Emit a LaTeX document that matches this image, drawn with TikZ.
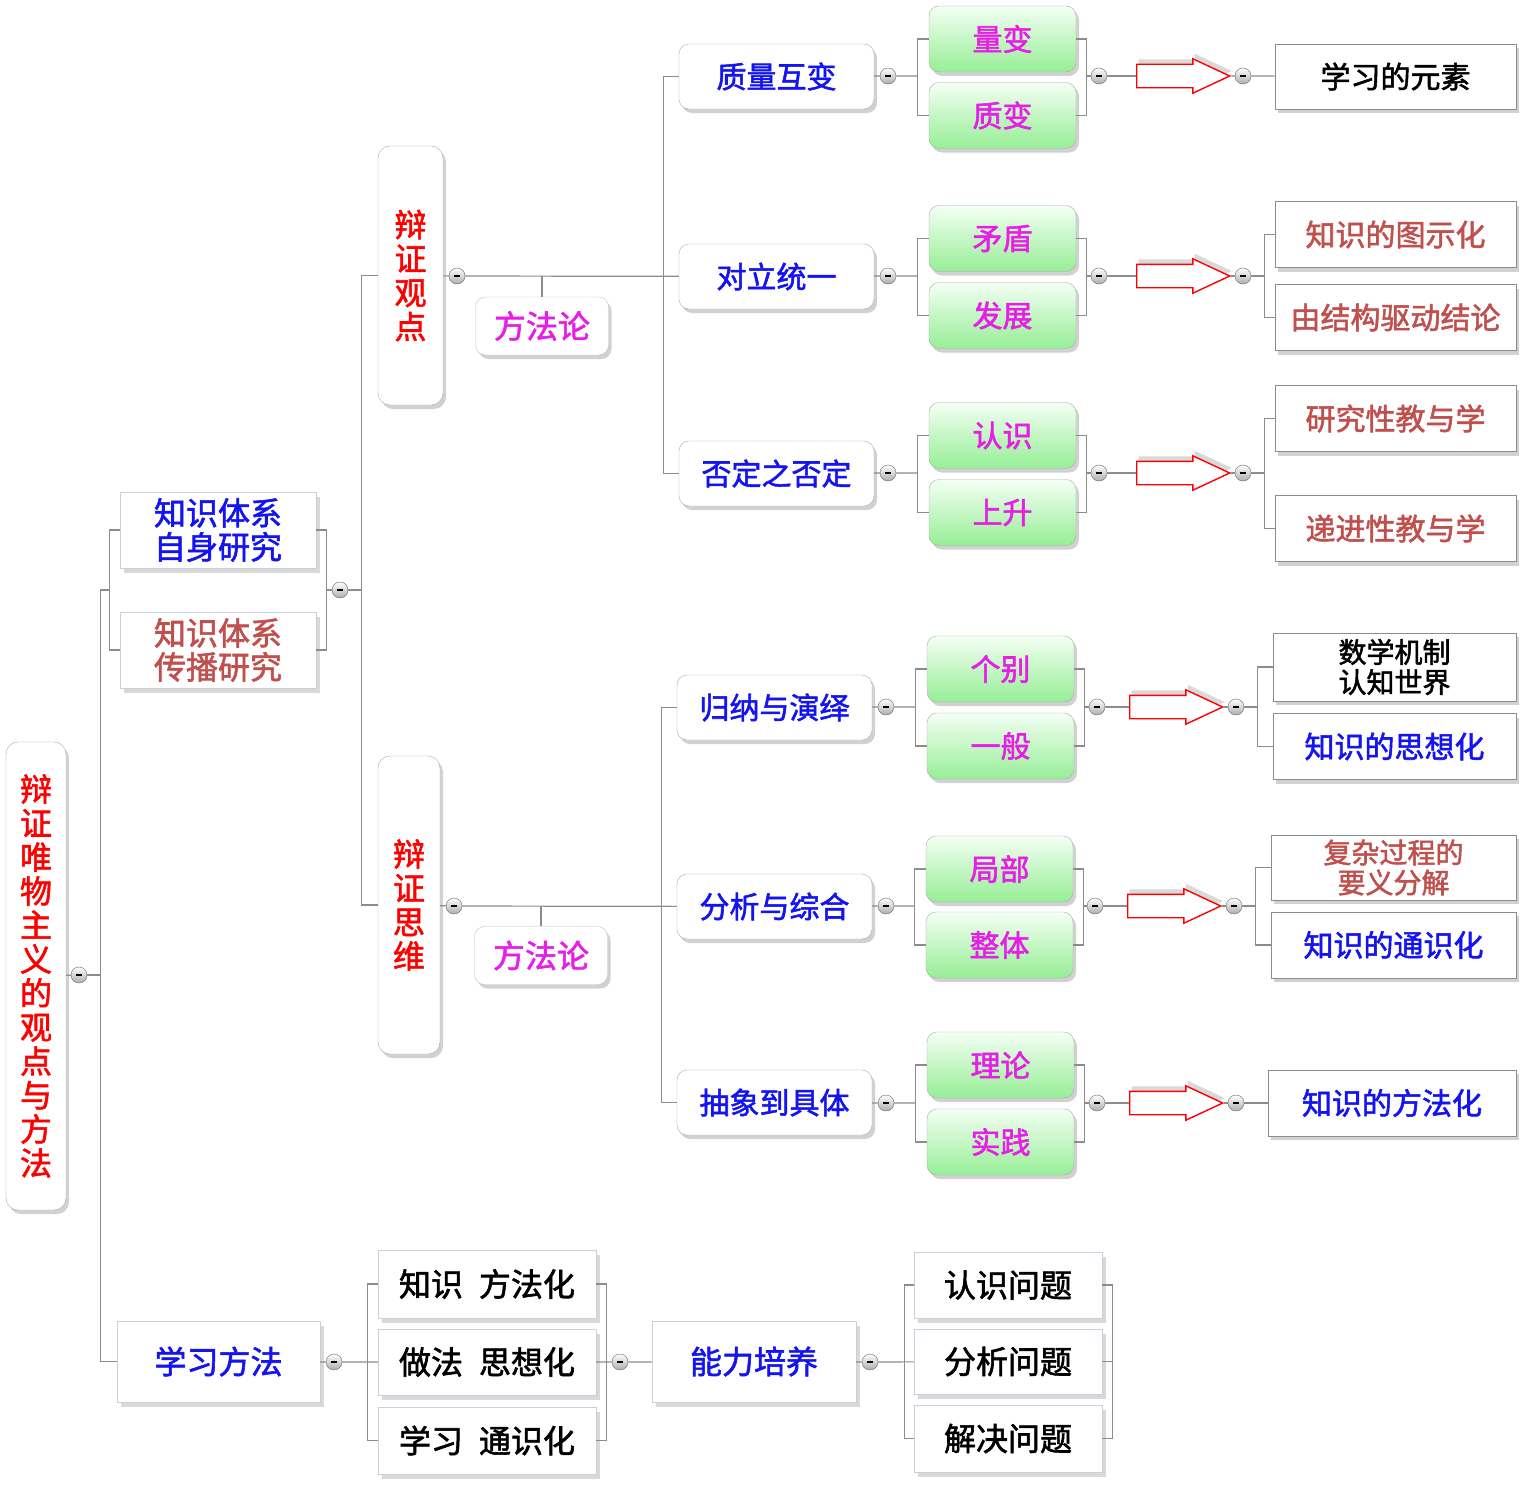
\documentclass[tikz,border=0pt]{standalone}
\usepackage{fontspec}
\setmainfont{Noto Sans CJK SC}[FakeBold=1.8]
\usepackage{tikz}
\usetikzlibrary{calc,positioning,shadows,shapes.arrows}

\definecolor{tred}{RGB}{255,0,0}
\definecolor{tblue}{RGB}{20,20,240}
\definecolor{tmag}{RGB}{230,30,230}
\definecolor{tbrown}{RGB}{192,80,77}
\definecolor{gtop}{RGB}{244,255,244}
\definecolor{gbot}{RGB}{150,238,150}
\definecolor{linegray}{RGB}{140,140,140}
\definecolor{framegray}{RGB}{170,170,170}
\definecolor{palegray}{RGB}{200,208,222}

\tikzset{
	shad/.style={drop shadow={shadow xshift=3pt,shadow yshift=-4pt,opacity=.3,fill=black!60}},
	link/.style={draw=linegray, line width=1.2pt},
	fold/.style={circle, draw=gray!80!black, top color=white, bottom color=gray!65, inner sep=0pt, minimum size=16pt, label={[inner sep=0pt]center:\rule{6pt}{2.4pt}}},
	vbox/.style={draw=framegray, fill=white, rounded corners=12pt, shad, inner sep=0pt, text width=34pt, align=center, text=tred, font=\fontsize{32}{34}\selectfont},
	meth/.style={draw=framegray!70, fill=white, rounded corners=10pt, shad, minimum width=133pt, minimum height=58pt, inner sep=0pt, text=tmag, font=\fontsize{32}{34}\selectfont},
	topic/.style={draw=framegray, fill=white, rounded corners=10pt, shad, minimum width=195pt, minimum height=65pt, inner sep=0pt, text=tblue, font=\fontsize{30}{32}\selectfont},
	leaf/.style={draw=framegray, top color=gtop, bottom color=gbot, rounded corners=10pt, shad, minimum width=147pt, minimum height=66pt, inner sep=0pt, text=tmag, font=\fontsize{30}{32}\selectfont},
	fat/.style={single arrow, anchor=tail, draw=red, fill=white, line width=1.4pt, minimum height=93pt, minimum width=33pt, single arrow head extend=5.5pt, single arrow tip angle=50, inner xsep=0pt, inner ysep=11pt, drop shadow={shadow xshift=2pt,shadow yshift=5pt,opacity=.15,fill=black}},
	rbox/.style={draw=linegray, fill=white, shad, minimum width=241pt, minimum height=66pt, inner sep=0pt, align=center, font=\fontsize{30}{30}\selectfont},
	pbox/.style={draw=palegray, fill=white, drop shadow={shadow xshift=4pt,shadow yshift=-5pt,opacity=.15,fill=black}, inner sep=0pt, align=center, font=\fontsize{32}{34}\selectfont},
}

\begin{document}
\begin{tikzpicture}[x=1pt,y=-1pt]
	\useasboundingbox (0,0) rectangle (1534,1488);
	% Root
	\node[vbox, minimum width=60pt, minimum height=468pt] (Root) at (36,976) {辩\\证\\唯\\物\\主\\义\\的\\观\\点\\与\\方\\法};
	\node[fold] (RootF) at (79,975) {};
	\coordinate (Trunk) at (101,975);
	
	% Knowledge system
	\node[pbox, minimum width=196pt, minimum height=76pt, text=tblue] (KSelf) at (218,530) {知识体系\\自身研究};
	\node[pbox, minimum width=196pt, minimum height=76pt, text=tbrown] (KSpread) at (218,650) {知识体系\\传播研究};
	\node[fold] (KF) at (340,590) {};
	
	% Viewpoint and thinking
	\node[vbox, minimum width=65pt, minimum height=259pt] (View) at (410.5,275.5) {辩\\证\\观\\点};
	\node[vbox, minimum width=62pt, minimum height=298pt] (Think) at (409,905) {辩\\证\\思\\维};
	\node[fold] (ViewF) at (457,276) {};
	\node[fold] (ThinkF) at (454,906) {};
	\node[meth] (ViewM) at (542,326) {方法论};
	\node[meth] (ThinkM) at (541,955.5) {方法论};
	
	% Topics
	\node[topic] (Mutual) at (776.5,76.5) {质量互变};
	\node[topic] (Unity) at (776.5,276.5) {对立统一};
	\node[topic] (Negate) at (776.5,473.5) {否定之否定};
	\node[topic] (Induct) at (774.5,707.5) {归纳与演绎};
	\node[topic] (Analy) at (774.5,906.5) {分析与综合};
	\node[topic] (Abstr) at (774.5,1102.5) {抽象到具体};
	\node[fold] (MutualF) at (888,76) {};
	\node[fold] (UnityF) at (888,276) {};
	\node[fold] (NegateF) at (888,473) {};
	\node[fold] (InductF) at (886,707) {};
	\node[fold] (AnalyF) at (886,906) {};
	\node[fold] (AbstrF) at (886,1103) {};
	
	% Leaves
	\node[leaf] (Quant) at (1002.5,39) {量变};
	\node[leaf] (Qual) at (1002.5,115.5) {质变};
	\node[leaf] (Contra) at (1002.5,238.5) {矛盾};
	\node[leaf] (Devel) at (1002.5,315.5) {发展};
	\node[leaf] (Cogn) at (1002.5,435.5) {认识};
	\node[leaf] (Rise) at (1002.5,512.5) {上升};
	\node[leaf] (Indiv) at (1000.5,669) {个别};
	\node[leaf] (Gener) at (1000.5,746) {一般};
	\node[leaf] (Part) at (999.5,869) {局部};
	\node[leaf] (Whole) at (999.5,945) {整体};
	\node[leaf] (Theory) at (1000.5,1065) {理论};
	\node[leaf] (Pract) at (1000.5,1142) {实践};
	\node[fold] (MutualG) at (1099,76) {};
	\node[fold] (UnityG) at (1099,276) {};
	\node[fold] (NegateG) at (1099,473) {};
	\node[fold] (InductG) at (1097,707) {};
	\node[fold] (AnalyG) at (1095,906) {};
	\node[fold] (AbstrG) at (1097,1103) {};
	
	% Arrows
	\node[fat] (MutualA) at (1136,76) {};
	\node[fat] (UnityA) at (1136,276) {};
	\node[fat] (NegateA) at (1136,473) {};
	\node[fat] (InductA) at (1129,707) {};
	\node[fat] (AnalyA) at (1127,906) {};
	\node[fat] (AbstrA) at (1129,1103) {};
	\node[fold] (MutualO) at (1243,76) {};
	\node[fold] (UnityO) at (1243,276) {};
	\node[fold] (NegateO) at (1243,473) {};
	\node[fold] (InductO) at (1236,707) {};
	\node[fold] (AnalyO) at (1234,906) {};
	\node[fold] (AbstrO) at (1236,1103) {};
	
	% Results
	\node[rbox, minimum height=65pt] (Elem) at (1395.5,76.5) {学习的元素};
	\node[rbox, text=tbrown] (Graph) at (1395.5,234.5) {知识的图示化};
	\node[rbox, text=tbrown] (Struct) at (1395.5,317.5) {由结构驱动结论};
	\node[rbox, text=tbrown] (Research) at (1395.5,418.5) {研究性教与学};
	\node[rbox, text=tbrown] (Progress) at (1395.5,528.5) {递进性教与学};
	\node[rbox, minimum width=243pt, minimum height=68pt, font=\fontsize{28}{30}\selectfont] (Mech) at (1394.5,667) {数学机制\\认知世界};
	\node[rbox, minimum width=243pt, text=tblue] (Idea) at (1394.5,746.5) {知识的思想化};
	\node[rbox, minimum width=245pt, minimum height=65pt, text=tbrown, font=\fontsize{28}{30}\selectfont] (Complex) at (1393.5,867.5) {复杂过程的\\要义分解};
	\node[rbox, minimum width=245pt, text=tblue] (Common) at (1393.5,945) {知识的通识化};
	\node[rbox, minimum width=248pt, text=tblue] (Method) at (1392,1103) {知识的方法化};
	
	% Study
	\node[pbox, minimum width=203pt, minimum height=81pt, text=tblue] (Study) at (218.5,1361.5) {学习方法};
	\node[fold] (StudyF) at (334,1362) {};
	\node[pbox, minimum width=218pt, minimum height=68pt] (Way1) at (487,1284) {知识\hspace{16pt}方法化};
	\node[pbox, minimum width=218pt, minimum height=66pt] (Way2) at (487,1362) {做法\hspace{16pt}思想化};
	\node[pbox, minimum width=218pt, minimum height=67pt] (Way3) at (487,1440.5) {学习\hspace{16pt}通识化};
	\node[fold] (WayF) at (620,1362) {};
	\node[pbox, minimum width=204pt, minimum height=81pt, text=tblue] (Ability) at (754,1361.5) {能力培养};
	\node[fold] (AbilityF) at (870,1362) {};
	\node[pbox, minimum width=188pt, minimum height=66pt] (Prob1) at (1008,1285) {认识问题};
	\node[pbox, minimum width=188pt, minimum height=65pt] (Prob2) at (1008,1361.5) {分析问题};
	\node[pbox, minimum width=188pt, minimum height=67pt] (Prob3) at (1008,1438.5) {解决问题};
	
	% Edges
	\draw[link] (Root) -- (RootF);
	\draw[link] (RootF) -- (Trunk);
	\draw[link] ($(KSelf.west |- KF)+(-10,0)$) -- ++(-9,0) |- (Study.west);
	\draw[link] (KSelf.west) -- ++(-10,0) |- (KSpread.west);
	\draw[link] (KSelf.east) -- ++(10,0) |- (KSpread.east);
	\draw[link] ($(KF -| KSelf.east)+(10,0)$) -- (KF);
	\draw[link] (KF) -- ($(KF -| View.west)+(-16,0)$);
	\draw[link] (View.west) -- ++(-16,0) |- (Think.west);
	\draw[link] (View) -- (ViewF);
	\draw[link] (Think) -- (ThinkF);
	\draw[link] (ViewF) -- (Unity);
	\draw[link] (ThinkF) -- (Analy);
	\draw[link] (ViewM.north) -- (ViewM.north |- ViewF);
	\draw[link] (ThinkM.north) -- (ThinkM.north |- ThinkF);
	\draw[link] (Mutual.west) -- ++(-15,0) |- (Negate.west);
	\draw[link] (Induct.west) -- ++(-15,0) |- (Abstr.west);
	
	\draw[link] (Mutual) -- (MutualF) -- ($(MutualF -| Quant.west)+(-11,0)$);
	\draw[link] (Unity) -- (UnityF) -- ($(UnityF -| Contra.west)+(-11,0)$);
	\draw[link] (Negate) -- (NegateF) -- ($(NegateF -| Cogn.west)+(-11,0)$);
	\draw[link] (Induct) -- (InductF) -- ($(InductF -| Indiv.west)+(-11,0)$);
	\draw[link] (Analy) -- (AnalyF) -- ($(AnalyF -| Part.west)+(-11,0)$);
	\draw[link] (Abstr) -- (AbstrF) -- ($(AbstrF -| Theory.west)+(-11,0)$);
	\draw[link] (Quant.west) -- ++(-11,0) |- (Qual.west);
	\draw[link] (Contra.west) -- ++(-11,0) |- (Devel.west);
	\draw[link] (Cogn.west) -- ++(-11,0) |- (Rise.west);
	\draw[link] (Indiv.west) -- ++(-11,0) |- (Gener.west);
	\draw[link] (Part.west) -- ++(-11,0) |- (Whole.west);
	\draw[link] (Theory.west) -- ++(-11,0) |- (Pract.west);
	\draw[link] (Quant.east) -- ++(10,0) |- (Qual.east);
	\draw[link] (Contra.east) -- ++(10,0) |- (Devel.east);
	\draw[link] (Cogn.east) -- ++(10,0) |- (Rise.east);
	\draw[link] (Indiv.east) -- ++(10,0) |- (Gener.east);
	\draw[link] (Part.east) -- ++(10,0) |- (Whole.east);
	\draw[link] (Theory.east) -- ++(10,0) |- (Pract.east);
	\draw[link] ($(MutualG -| Quant.east)+(10,0)$) -- (MutualG) -- (MutualA);
	\draw[link] ($(UnityG -| Contra.east)+(10,0)$) -- (UnityG) -- (UnityA);
	\draw[link] ($(NegateG -| Cogn.east)+(10,0)$) -- (NegateG) -- (NegateA);
	\draw[link] ($(InductG -| Indiv.east)+(10,0)$) -- (InductG) -- (InductA);
	\draw[link] ($(AnalyG -| Part.east)+(10,0)$) -- (AnalyG) -- (AnalyA);
	\draw[link] ($(AbstrG -| Theory.east)+(10,0)$) -- (AbstrG) -- (AbstrA);
	\draw[link] (MutualA) -- (MutualO) -- (Elem);
	\draw[link] (UnityA) -- (UnityO) -- ($(UnityO -| Graph.west)+(-10,0)$);
	\draw[link] (NegateA) -- (NegateO) -- ($(NegateO -| Research.west)+(-10,0)$);
	\draw[link] (InductA) -- (InductO) -- ($(InductO -| Mech.west)+(-15,0)$);
	\draw[link] (AnalyA) -- (AnalyO) -- ($(AnalyO -| Complex.west)+(-15,0)$);
	\draw[link] (AbstrA) -- (AbstrO) -- (Method);
	\draw[link] (Graph.west) -- ++(-10,0) |- (Struct.west);
	\draw[link] (Research.west) -- ++(-10,0) |- (Progress.west);
	\draw[link] (Mech.west) -- ++(-15,0) |- (Idea.west);
	\draw[link] (Complex.west) -- ++(-15,0) |- (Common.west);
	
	\draw[link] (Study) -- (StudyF) -- (Way2);
	\draw[link] (Way1.west) -- ++(-10,0) |- (Way3.west);
	\draw[link] (Way1.east) -- ++(10,0) |- (Way3.east);
	\draw[link] (Way2) -- (WayF) -- (Ability);
	\draw[link] (Ability) -- (AbilityF) -- (Prob2);
	\draw[link] (Prob1.west) -- ++(-9,0) |- (Prob3.west);
	\draw[link] (Prob1.east) -- ++(10,0) |- (Prob3.east);
	\draw[link] (Prob2.east) -- ++(10,0);
\end{tikzpicture}
\end{document}
